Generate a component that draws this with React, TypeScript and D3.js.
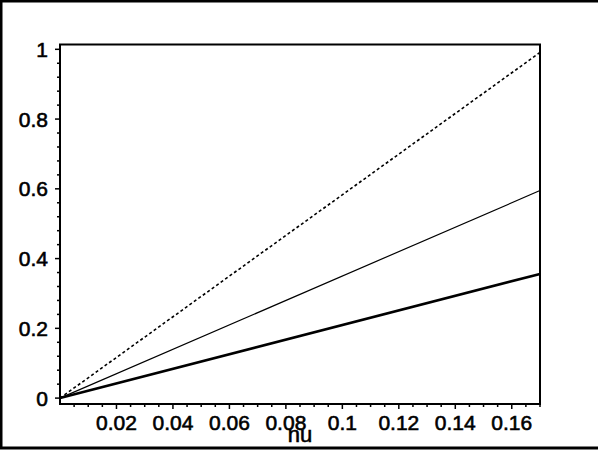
import React, { useEffect, useRef } from 'react';
import * as d3 from 'd3';

const nuValues = [0, 0.17];
const dashedSeries = [0, 0.991];
const thinSeries = [0, 0.595];
const thickSeries = [0, 0.356];

const xTicks = [0.02, 0.04, 0.06, 0.08, 0.1, 0.12, 0.14, 0.16];
const yTicks = [0, 0.2, 0.4, 0.6, 0.8, 1];
const xLabel = 'nu';

const width = 598;
const height = 450;

const App: React.FC = () => {
  const svgRef = useRef<SVGSVGElement>(null);

  useEffect(() => {
    if (!svgRef.current) return;
    const svg = d3.select(svgRef.current);
    svg.selectAll('*').remove();

    const left = 60;
    const right = 540;
    const top = 44.5;
    const bottom = 404;

    const xScale = d3.scaleLinear().domain([0, 0.17]).range([left, right]);
    const yScale = d3.scaleLinear().domain([-0.0169, 1.0138]).range([bottom, top]);

    // outer frame (right edge falls outside the picture)
    svg.append('rect')
      .attr('x', 1).attr('y', 1)
      .attr('width', 640).attr('height', 447)
      .attr('fill', 'white')
      .attr('stroke', 'black')
      .attr('stroke-width', 3);

    const line = d3.line<number>()
      .x((_, i) => xScale(nuValues[i]))
      .y(d => yScale(d));

    svg.append('path')
      .datum(dashedSeries)
      .attr('fill', 'none')
      .attr('stroke', 'black')
      .attr('stroke-width', 1.6)
      .attr('stroke-dasharray', '3,2.5')
      .attr('d', line);

    svg.append('path')
      .datum(thinSeries)
      .attr('fill', 'none')
      .attr('stroke', 'black')
      .attr('stroke-width', 1.2)
      .attr('d', line);

    svg.append('path')
      .datum(thickSeries)
      .attr('fill', 'none')
      .attr('stroke', 'black')
      .attr('stroke-width', 2.6)
      .attr('d', line);

    // box
    svg.append('rect')
      .attr('x', left).attr('y', top)
      .attr('width', right - left).attr('height', bottom - top)
      .attr('fill', 'none')
      .attr('stroke', 'black')
      .attr('stroke-width', 2);

    const font = '"Liberation Sans", Arial, sans-serif';

    // Y axis ticks
    const yMinor = d3.range(0, 1.0001, 0.04);
    svg.append('g')
      .selectAll('line')
      .data(yMinor)
      .enter()
      .append('line')
      .attr('x1', left)
      .attr('x2', d => (yTicks.some(t => Math.abs(t - d) < 1e-6) ? left - 5 : left - 3))
      .attr('y1', d => yScale(d))
      .attr('y2', d => yScale(d))
      .attr('stroke', 'black')
      .attr('stroke-width', 1.5);

    svg.append('g')
      .selectAll('text')
      .data(yTicks)
      .enter()
      .append('text')
      .attr('x', 48)
      .attr('y', d => yScale(d) + 7.5)
      .attr('text-anchor', 'end')
      .style('font-family', font)
      .style('font-size', '21px')
      .attr('stroke', 'black')
      .attr('stroke-width', 0.6)
      .text(d => d3.format('~g')(d));

    // X axis ticks
    const xMinor = d3.range(0.005, 0.1701, 0.005);
    svg.append('g')
      .selectAll('line')
      .data(xMinor)
      .enter()
      .append('line')
      .attr('x1', d => xScale(d))
      .attr('x2', d => xScale(d))
      .attr('y1', bottom)
      .attr('y2', d => (xTicks.some(t => Math.abs(t - d) < 1e-6) ? bottom + 5 : bottom + 3))
      .attr('stroke', 'black')
      .attr('stroke-width', 1.5);

    svg.append('g')
      .selectAll('text')
      .data(xTicks)
      .enter()
      .append('text')
      .attr('x', d => xScale(d))
      .attr('y', 430)
      .attr('text-anchor', 'middle')
      .style('font-family', font)
      .style('font-size', '21px')
      .attr('stroke', 'black')
      .attr('stroke-width', 0.6)
      .text(d => d3.format('~g')(d));

    svg.append('text')
      .attr('x', (left + right) / 2)
      .attr('y', 442)
      .attr('text-anchor', 'middle')
      .style('font-family', font)
      .style('font-size', '22px')
      .attr('stroke', 'black')
      .attr('stroke-width', 0.6)
      .text(xLabel);
  }, []);

  return (
    <svg
      ref={svgRef}
      width={width}
      height={height}
      style={{ position: 'absolute', left: 0, top: 0, display: 'block', background: 'white' }}
    />
  );
};

export default App;
